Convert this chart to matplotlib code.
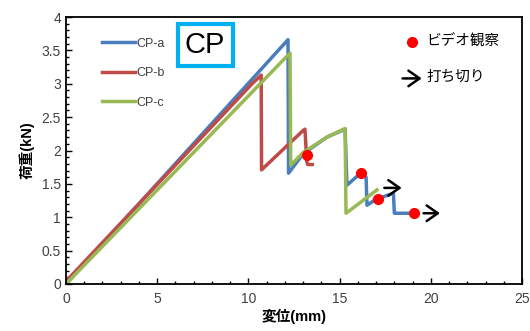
import matplotlib
matplotlib.use("Agg")
from matplotlib import pyplot as plt
from matplotlib.ticker import MultipleLocator

plt.rcParams['font.family'] = ['Liberation Sans', 'Noto Sans CJK JP', 'DejaVu Sans']

# CP-a (blue)
a_x = [0, 12.17, 12.2, 13.0, 14.3, 15.3, 15.4, 16.15, 16.45, 16.5, 17.0, 17.95, 18.0, 19.1]
a_y = [0, 3.66, 1.66, 1.95, 2.2, 2.32, 1.48, 1.66, 1.6, 1.18, 1.27, 1.36, 1.06, 1.06]
# CP-b (red)
b_x = [0, 10.2, 10.7, 10.72, 13.0, 13.1, 13.2, 13.25, 13.5]
b_y = [0.04, 3.0, 3.13, 1.71, 2.3, 2.32, 1.83, 1.79, 1.79]
# CP-c (green)
c_x = [0, 12.28, 12.32, 13.0, 14.3, 15.3, 15.35, 17.05]
c_y = [0, 3.46, 1.78, 1.97, 2.2, 2.33, 1.06, 1.41]

# video observation points
dot_x = [13.2, 16.15, 17.1, 19.1]
dot_y = [1.93, 1.66, 1.27, 1.06]
# cut-off arrows (start x, end x, y)
arrow_x0 = [17.45, 19.6]
arrow_x1 = [18.4, 20.5]
arrow_y = [1.44, 1.06]

yticks = [0, 0.5, 1, 1.5, 2, 2.5, 3, 3.5, 4]
ytick_labels = ["0", "0.5", "1", "1.5", "2", "2.5", "3", "3.5", "4"]
xticks = [0, 5, 10, 15, 20, 25]

fig = plt.figure(figsize=(5.3, 3.31), dpi=100)
ax = fig.add_axes([0.1245, 0.142, 0.8605, 0.8066])

ax.plot(a_x, a_y, color="#4A7EBB", lw=2.5, label="CP-a")
ax.plot(b_x, b_y, color="#BE4B48", lw=2.5, label="CP-b")
ax.plot(c_x, c_y, color="#98B954", lw=2.5, label="CP-c")
ax.plot(dot_x, dot_y, "o", color="red", ms=7, ls="none")

arrow_props = dict(arrowstyle="->,head_length=0.5,head_width=0.35", color="black",
                   lw=1.8, mutation_scale=16, shrinkA=0, shrinkB=0)
for x0, x1, y in zip(arrow_x0, arrow_x1, arrow_y):
    ax.annotate("", xy=(x1, y), xytext=(x0, y), arrowprops=arrow_props)

ax.set_xlim(0, 25)
ax.set_ylim(0, 4)
ax.set_xticks(xticks)
ax.set_yticks(yticks)
ax.set_yticklabels(ytick_labels)
ax.xaxis.set_minor_locator(MultipleLocator(1))
ax.yaxis.set_minor_locator(MultipleLocator(0.1))
ax.tick_params(which="both", direction="in", colors="black", labelcolor="#404040", labelsize=10)
ax.tick_params(which="major", length=4, width=1)
ax.tick_params(which="minor", length=2.5, width=1)
ax.tick_params(axis="x", pad=6)
for s in ax.spines.values():
    s.set_linewidth(1.3)

ax.set_xlabel("変位(mm)", fontsize=10.5, fontweight="bold", labelpad=2,
              family=['Liberation Sans', 'Noto Sans CJK JP'])
ax.set_ylabel("荷重(kN)", fontsize=10.5, fontweight="bold", labelpad=5,
              family=['Liberation Sans', 'Noto Sans CJK JP'])

leg = ax.legend(loc="upper left", bbox_to_anchor=(0.055, 0.965), frameon=False,
                fontsize=9, handlelength=2.6, handletextpad=0.1, labelspacing=1.4)
for t in leg.get_texts():
    t.set_color("#404040")

# CP title box
ax.text(0.305, 0.895, "CP", transform=ax.transAxes, fontsize=21, ha="center", va="center",
        bbox=dict(boxstyle="square,pad=0.25", fc="white", ec="#00B0F0", lw=3))

# marker legend
ax.plot([0.759], [0.907], "o", color="red", ms=7, transform=ax.transAxes)
ax.text(0.79, 0.907, "ビデオ観察", transform=ax.transAxes, fontsize=10.5, va="center",
        family=['Noto Sans CJK JP'])
ax.annotate("", xy=(0.78, 0.77), xytext=(0.738, 0.77), xycoords="axes fraction",
            arrowprops=arrow_props)
ax.text(0.79, 0.775, "打ち切り", transform=ax.transAxes, fontsize=10.5, va="center",
        family=['Noto Sans CJK JP'])

fig.savefig("out.png", dpi=100)
